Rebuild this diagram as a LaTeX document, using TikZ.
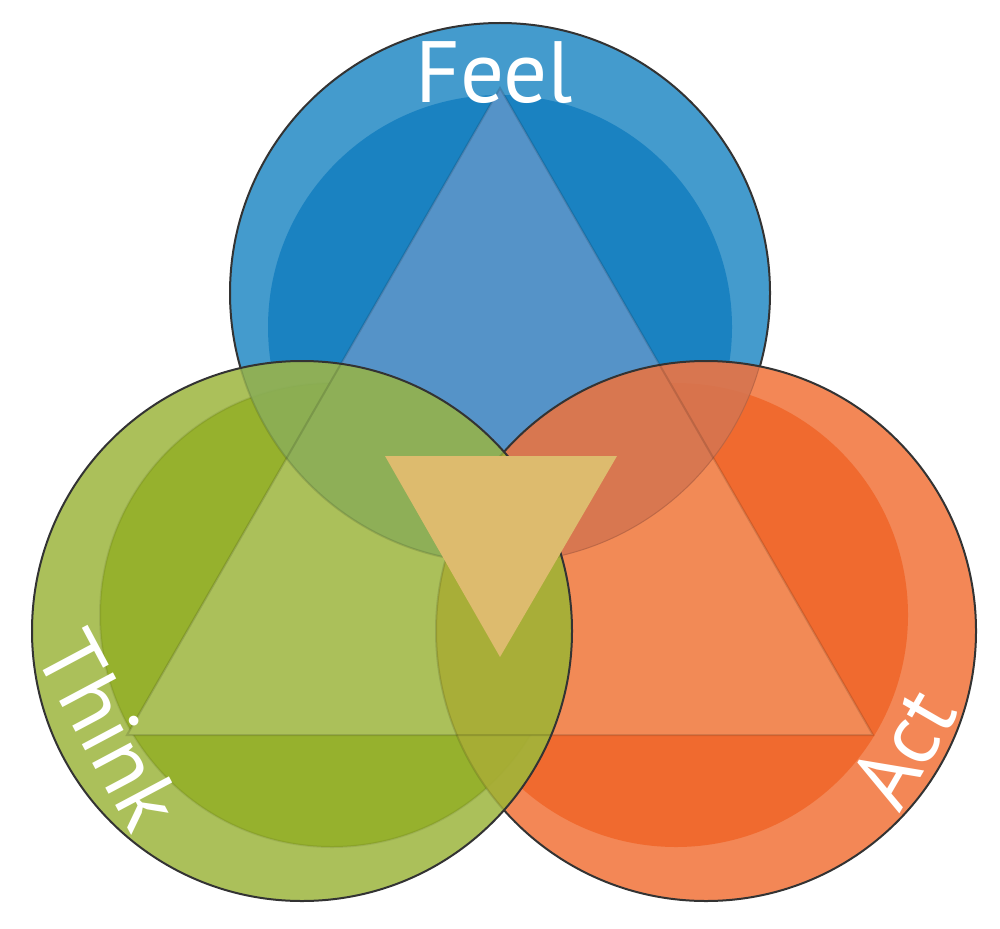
\documentclass[tikz,border=0pt]{standalone}
\usepackage{fontspec}
\setmainfont{PT Sans}
\usepackage{xcolor}
\definecolor{blueout}{HTML}{449BCD}
\definecolor{bluein}{HTML}{1A82C1}
\definecolor{bluetri}{HTML}{5593C8}
\definecolor{greenout}{HTML}{ABC05A}
\definecolor{greenin}{HTML}{96B12D}
\definecolor{greentri}{HTML}{ABC05A}
\definecolor{orangeout}{HTML}{F38756}
\definecolor{orangein}{HTML}{F06A2F}
\definecolor{orangetri}{HTML}{F28A56}
\definecolor{bluegreen}{HTML}{8BAE57}
\definecolor{blueorange}{HTML}{D67550}
\definecolor{greenorange}{HTML}{A8AD35}
\definecolor{sand}{HTML}{DDBB6E}
\definecolor{edgegray}{HTML}{333333}
\usetikzlibrary{positioning}

\begin{document}
\begin{tikzpicture}[x=1pt, y=-1pt,
		rim/.style={draw=edgegray, line width=2pt},
		faint/.style={draw=black, draw opacity=.12, line width=2pt},
		triedge/.style={draw=black, draw opacity=.13, line width=2pt, line join=miter},
		overlap/.style={fill opacity=.9},
		word/.style={text=white, inner sep=0pt, font=\fontsize{87}{87}\selectfont}]
	\useasboundingbox (0,0) rectangle (1000,928);
	\coordinate (B) at (500,293);
	\coordinate (Bi) at (500,327);
	\coordinate (G) at (302,631);
	\coordinate (Gi) at (332,615);
	\coordinate (O) at (706,631);
	\coordinate (Oi) at (676,615);
	\coordinate (T1) at (500,88);
	\coordinate (T2) at (127,735);
	\coordinate (T3) at (873,735);
	\coordinate (V1) at (385,456);
	\coordinate (V2) at (617,456);
	\coordinate (V3) at (500,657);

	\fill[blueout] (B) circle (270pt);
	\fill[bluein] (Bi) circle (232pt);
	\begin{scope}
		\clip (B) circle (270pt);
		\fill[bluetri] (T1) -- (T2) -- (T3) -- cycle;
		\draw[triedge] (T1) -- (T2) -- (T3) -- cycle;
	\end{scope}
	\draw[rim] (B) circle (270pt);

	\fill[orangeout] (O) circle (270pt);
	\fill[orangein] (Oi) circle (232pt);
	\begin{scope}
		\clip (O) circle (270pt);
		\fill[orangetri] (T1) -- (T2) -- (T3) -- cycle;
		\draw[triedge] (T1) -- (T2) -- (T3) -- cycle;
	\end{scope}
	\begin{scope}
		\clip (B) circle (270pt);
		\fill[blueorange, overlap] (O) circle (270pt);
		\clip (O) circle (270pt);
		\draw[faint] (B) circle (270pt);
		\draw[faint] (T1) -- (T2) -- (T3) -- cycle;
	\end{scope}
	\draw[rim] (O) circle (270pt);

	\fill[greenout] (G) circle (270pt);
	\fill[greenin] (Gi) circle (232pt);
	\draw[faint, draw opacity=.08] (Gi) circle (232pt);
	\begin{scope}
		\clip (G) circle (270pt);
		\fill[greentri] (T1) -- (T2) -- (T3) -- cycle;
		\draw[triedge] (T1) -- (T2) -- (T3) -- cycle;
	\end{scope}
	\begin{scope}
		\clip (G) circle (270pt);
		\fill[bluegreen, overlap] (B) circle (270pt);
		\fill[greenorange, overlap] (O) circle (270pt);
		\draw[faint] (B) circle (270pt);
		\draw[faint] (O) circle (270pt);
	\end{scope}
	\begin{scope}
		\clip (G) circle (270pt);
		\clip (B) circle (270pt);
		\draw[faint] (T1) -- (T2) -- (T3) -- cycle;
	\end{scope}
	\begin{scope}
		\clip (G) circle (270pt);
		\clip (O) circle (270pt);
		\draw[faint] (T1) -- (T2) -- (T3) -- cycle;
	\end{scope}
	\draw[rim] (G) circle (270pt);

	\fill[sand] (V1) -- (V2) -- (V3) -- cycle;

	\node (feel) [word, anchor=base] at (494,103) {Feel};
	\node (think) [word, rotate=-62] at (110,730) {Think};
	\node (act) [word, rotate=60] at (903,748) {Act};
\end{tikzpicture}
\end{document}
